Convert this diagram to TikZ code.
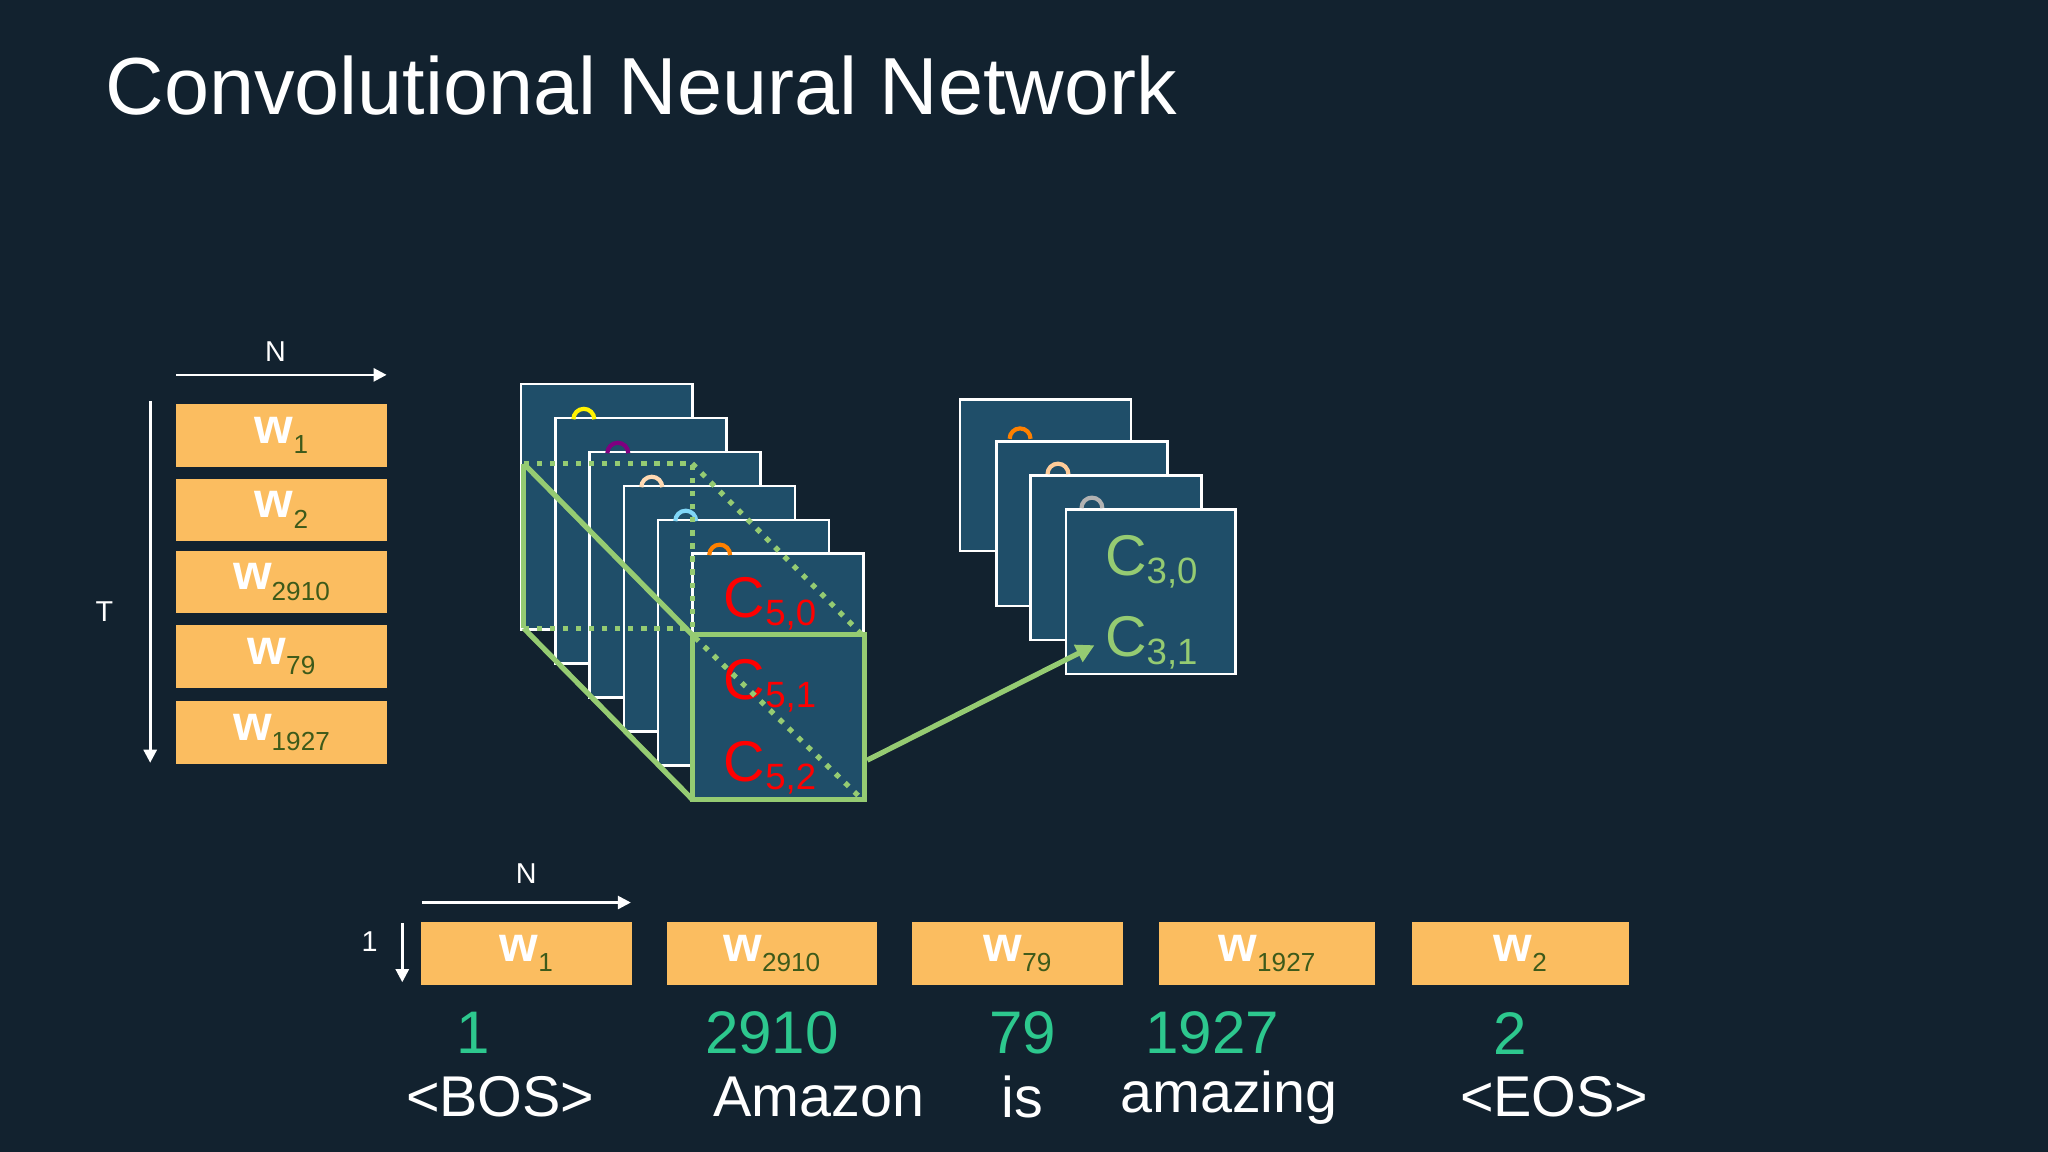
\documentclass[tikz,border=0pt]{standalone}
\usepackage{fontspec}
\setmainfont{Liberation Sans}
\usetikzlibrary{arrows.meta}
\definecolor{bg}{HTML}{12222F}
\definecolor{sq}{HTML}{1F4E69}
\definecolor{org}{HTML}{FBBD60}
\definecolor{sub}{HTML}{3D5A1A}
\definecolor{grn}{HTML}{95CB72}
\definecolor{num}{HTML}{2DC88E}
\begin{document}
\begin{tikzpicture}[x=0.5pt,y=-0.5pt,
  wbox/.style={fill=org,draw=none,minimum width=80.5pt,minimum height=24pt,inner sep=0pt},
  sqr/.style={fill=sq,draw=white,line width=1pt},
  ax/.style={draw=white,line width=1pt,-{Triangle[length=5pt,width=5pt]}},
  lab/.style={text=white,font=\fontsize{11}{12}\selectfont},
  gl/.style={draw=grn,line width=2pt},
  gd/.style={draw=grn,line width=2pt,dash pattern=on 2pt off 3pt},
  cr/.style={text=red,font=\fontsize{22}{24}\selectfont},
  cg/.style={text=grn,font=\fontsize{22}{24}\selectfont},
  nm/.style={text=num,font=\fontsize{23}{26}\selectfont},
  wd/.style={text=white,font=\fontsize{22}{26}\selectfont}]
\fill[bg] (0,0) rectangle (1568,882);
\useasboundingbox (0,0) rectangle (1568,882);
\newcommand{\wl}[1]{\textcolor{white}{\fontsize{19}{20}\selectfont\bfseries w}\textcolor{sub}{\fontsize{10}{11}\selectfont\raisebox{-4pt}{#1}}}
\node[anchor=base west,text=white,font=\fontsize{31}{34}\selectfont] (title) at (74,88) {Convolutional Neural Network};
% left column
\coordinate (na) at (135,287); \coordinate (nb) at (296,287);
\draw[ax] (na) -- (nb);
\node[lab] (nlab) at (211,269) {N};
\coordinate (ta) at (115,307); \coordinate (tb) at (115,584);
\draw[ax] (ta) -- (tb);
\node[lab] (tlab) at (80,468) {T};
\node[wbox] (l1) at (215.5,333.5) {\wl{1}};
\node[wbox] (l2) at (215.5,390.5) {\wl{2}};
\node[wbox] (l3) at (215.5,445.5) {\wl{2910}};
\node[wbox] (l4) at (215.5,502.5) {\wl{79}};
\node[wbox] (l5) at (215.5,561) {\wl{1927}};
% stacked squares
\foreach \i/\c in {0/yellow,1/violet!80!white,2/orange!30!white,3/cyan!50!white,4/orange,5/none}{
  \pgfmathsetmacro{\xx}{399+26.2*\i}
  \pgfmathsetmacro{\yy}{294+26*\i}
  \draw[sqr] (\xx,\yy) rectangle ++(131,188);
  \ifx\c\relax\else\fi
}
\foreach \i/\c in {0/yellow,1/violet,2/orange!30!white,3/cyan!50!white,4/orange}{
  \pgfmathsetmacro{\xx}{447+26*\i}
  \pgfmathsetmacro{\yy}{321+26*\i}
  \draw[\c,line width=1.6pt] (\xx-8,\yy) arc[start angle=180,end angle=0,radius=4pt];
}
\node[cr] (c50) at (590,462) {C\textsubscript{\fontsize{14}{14}\selectfont 5,0}};
\node[cr] (c51) at (590,525) {C\textsubscript{\fontsize{14}{14}\selectfont 5,1}};
\node[cr] (c52) at (590,588) {C\textsubscript{\fontsize{14}{14}\selectfont 5,2}};
% green overlay
\draw[gl] (401,355) -- (401,481);
\draw[gl] (401,355) -- (530,486);
\draw[gl] (401,481) -- (530,612);
\draw[gd] (401,355) -- (530,355) -- (530,481) -- (401,481);
\draw[gd] (530,355) -- (660,486);
\draw[gd] (532,488) -- (660,612);
\draw[gl] (530,486) rectangle (662,612);
\coordinate (fr) at (664,582);
% right stack
\draw[sqr] (735,306) rectangle (866,422);
\draw[sqr] (763,338) rectangle (894,464);
\draw[sqr] (789,364) rectangle (920,490);
\draw[sqr] (816,390) rectangle (946,516);
\draw[orange,line width=1.6pt] (773,336) arc[start angle=180,end angle=0,radius=4pt];
\draw[orange!40!white,line width=1.6pt] (802,363) arc[start angle=180,end angle=0,radius=4pt];
\draw[gray!60!white,line width=1.6pt] (828,389) arc[start angle=180,end angle=0,radius=4pt];
\node[cg] (c30) at (882,430) {C\textsubscript{\fontsize{14}{14}\selectfont 3,0}};
\node[cg] (c31) at (882,492) {C\textsubscript{\fontsize{14}{14}\selectfont 3,1}};
\coordinate (to) at (838,494);
\draw[gl,-{Triangle[length=7pt,width=7pt]}] (fr) -- (to);
% bottom row
\coordinate (bn1) at (323,691); \coordinate (bn2) at (483,691);
\draw[ax] (bn1) -- (bn2);
\node[lab] (bnl) at (403,669) {N};
\coordinate (bd1) at (308,707); \coordinate (bd2) at (308,752);
\draw[ax] (bd1) -- (bd2);
\node[lab] (bdl) at (283,721) {1};
\node[wbox] (b1) at (403,730) {\wl{1}};
\node[wbox] (b2) at (591,730) {\wl{2910}};
\node[wbox] (b3) at (779,730) {\wl{79}};
\node[wbox,minimum width=83pt] (b4) at (970,730) {\wl{1927}};
\node[wbox,minimum width=83pt] (b5) at (1164,730) {\wl{2}};
\node[nm] (n1) at (362,791) {1};
\node[nm] (n2) at (591,791) {2910};
\node[nm] (n3) at (783,791) {79};
\node[nm] (n4) at (928,791) {1927};
\node[nm] (n5) at (1156,791) {2};
\node[wd] (w1) at (383,840) {<BOS>};
\node[wd] (w2) at (627,840) {Amazon};
\node[wd] (w3) at (783,840) {is};
\node[wd] (w4) at (941,840) {amazing};
\node[wd] (w5) at (1190,840) {<EOS>};
\end{tikzpicture}
\end{document}
